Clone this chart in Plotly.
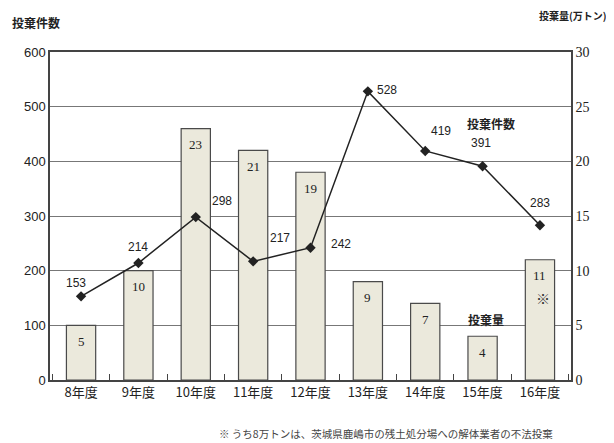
import plotly.graph_objects as go

years = ["8年度", "9年度", "10年度", "11年度", "12年度", "13年度", "14年度", "15年度", "16年度"]
amount = [5, 10, 23, 21, 19, 9, 7, 4, 11]          # 投棄量 (万トン), right axis
cases = [153, 214, 298, 217, 242, 528, 419, 391, 283]  # 投棄件数, left axis

FONT = "Liberation Sans, Noto Sans CJK JP, sans-serif"
JP = "Noto Sans CJK JP, sans-serif"
SERIF = "Liberation Serif, DejaVu Serif, serif"

fig = go.Figure()
# bars on primary axis (drawn first, below), line on overlaying axis (drawn on top)
fig.add_trace(go.Bar(
    x=years, y=amount, yaxis="y", width=0.51,
    marker=dict(color="#ebe9dc", line=dict(color="#4a4a4a", width=1.2)),
    showlegend=False, hoverinfo="skip",
))
fig.add_trace(go.Scatter(
    x=years, y=cases, yaxis="y2", mode="lines+markers",
    line=dict(color="#222", width=1.5),
    marker=dict(symbol="diamond", size=8, color="#222"),
    showlegend=False, hoverinfo="skip",
))

ann = []
for yr, v in zip(years, amount):
    ann.append(dict(x=yr, y=v, xref="x", yref="y", text=str(v), showarrow=False,
                    yshift=-16, font=dict(family=SERIF, size=13, color="#222")))

# label offsets for line values (pixels)
offs = [(-5, 13), (0, 16), (26, 16), (27, 23), (30, 4), (19, 1), (16, 20), (-2, 23), (0, 22)]
for yr, v, (dx, dy) in zip(years, cases, offs):
    ann.append(dict(x=yr, y=v, xref="x", yref="y2", text=str(v), showarrow=False,
                    xshift=dx, yshift=dy, font=dict(family=FONT, size=12, color="#222")))

ann += [
    dict(x=0.0, y=1.0, xref="paper", yref="paper", xanchor="left", yanchor="middle",
         xshift=-40, yshift=30, text="<b>投棄件数</b>", showarrow=False,
         font=dict(family=JP, size=12, color="#222")),
    dict(x=1.0, y=1.0, xref="paper", yref="paper", xanchor="right", yanchor="middle",
         xshift=38, yshift=37, text="<b>投棄量(万トン)</b>", showarrow=False,
         font=dict(family=JP, size=10, color="#222")),
    dict(x="15年度", y=470, xref="x", yref="y2", text="<b>投棄件数</b>", showarrow=False,
         xshift=8, font=dict(family=JP, size=12, color="#222")),
    dict(x="15年度", y=5.5, xref="x", yref="y", text="<b>投棄量</b>", showarrow=False,
         xshift=3, font=dict(family=JP, size=12, color="#222")),
    dict(x="16年度", y=7.5, xref="x", yref="y", text="※", showarrow=False,
         xshift=3, font=dict(family=JP, size=14, color="#333")),
    dict(x=1.0, y=0, xref="paper", yref="paper", xanchor="right", yanchor="middle",
         xshift=-16, yshift=-53,
         text="※ うち8万トンは、茨城県鹿嶋市の残土処分場への解体業者の不法投棄",
         showarrow=False, font=dict(family=JP, size=10.5, color="#444")),
]

fig.update_layout(
    width=606, height=435,
    margin=dict(l=42, r=43, t=44, b=63),
    paper_bgcolor="white", plot_bgcolor="white",
    font=dict(family=FONT, size=13, color="#222"),
    xaxis=dict(
        showline=True, linecolor="#444", linewidth=1.5, mirror=True,
        ticks="inside", tickson="boundaries", ticklen=6, tickcolor="#444",
        tickfont=dict(family=JP, size=13, color="#222"),
        showgrid=False,
    ),
    yaxis=dict(
        range=[0, 30], dtick=5, side="right", showgrid=True, gridcolor="#777", gridwidth=1,
        showline=True, linecolor="#444", linewidth=1.5,
        ticks="", tickfont=dict(family=SERIF, size=14, color="#222"),
        zeroline=False,
    ),
    yaxis2=dict(
        range=[0, 600], dtick=100, overlaying="y", side="left", showgrid=False,
        showline=True, linecolor="#444", linewidth=1.5,
        ticks="", tickfont=dict(family=FONT, size=13, color="#222"),
        zeroline=False,
    ),
    annotations=ann,
)

fig.write_html("out.html")
